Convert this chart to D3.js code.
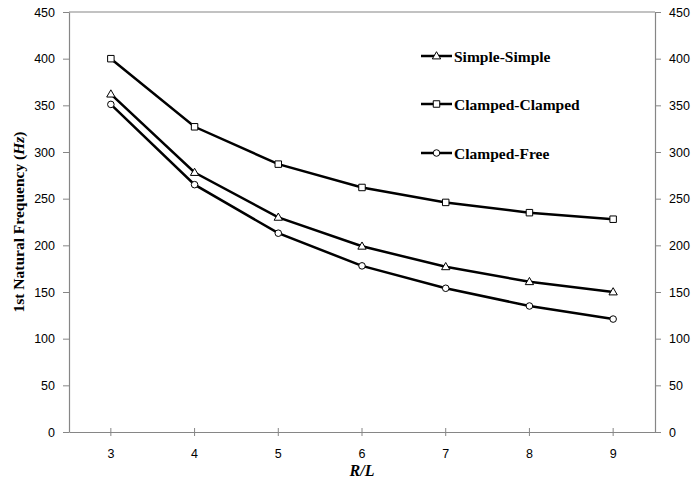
<!DOCTYPE html>
<html>
<head>
<meta charset="utf-8">
<script src="https://cdn.jsdelivr.net/npm/d3@7"></script>
<style>
  body { margin: 0; background: #fff; }
  svg { display: block; }
</style>
</head>
<body>
<div id="chart"></div>
<script>
// chart values
const ratios = [3, 4, 5, 6, 7, 8, 9];
const simpleSimple = [362, 278, 230, 199, 177, 161, 150];
const clampedClamped = [400, 327, 287, 262, 246, 235, 228];
const clampedFree = [351, 265, 213, 178, 154, 135, 121];
const yTicks = [0, 50, 100, 150, 200, 250, 300, 350, 400, 450];
const seriesNames = ['Simple-Simple', 'Clamped-Clamped', 'Clamped-Free'];

const width = 698, height = 484;
const plotLeft = 69, plotRight = 655, plotTop = 12, plotBottom = 432;
const axisColor = '#868686';
const tickFont = '"Liberation Sans", Arial, sans-serif';
const titleFont = '"Liberation Serif", "Times New Roman", serif';

const svg = d3.select('#chart').append('svg')
    .attr('width', width).attr('height', height);

const x = d3.scaleBand().domain(ratios).range([plotLeft, plotRight]);
const y = d3.scaleLinear().domain([0, 450]).range([plotBottom, plotTop]);
const cx = d => x(d) + x.bandwidth() / 2;

// top border of the plot box
svg.append('line').attr('x1', plotLeft).attr('x2', plotRight)
    .attr('y1', plotTop).attr('y2', plotTop)
    .attr('stroke', axisColor).attr('stroke-width', 1.2);

// left and right value axes
const yLeft = svg.append('g').attr('transform', `translate(${plotLeft},0)`)
    .call(d3.axisLeft(y).tickValues(yTicks).tickSize(6).tickPadding(8).tickSizeOuter(0));
const yRight = svg.append('g').attr('transform', `translate(${plotRight},0)`)
    .call(d3.axisRight(y).tickValues(yTicks).tickSize(6).tickPadding(8).tickSizeOuter(0));
[yLeft, yRight].forEach(g => {
    g.select('.domain').attr('stroke', axisColor).attr('stroke-width', 1.2);
    g.selectAll('.tick line').attr('stroke', axisColor);
    g.selectAll('.tick text').attr('fill', '#000').style('font', `12.5px ${tickFont}`);
});

// bottom axis with crossing ticks
const xAxis = svg.append('g').attr('transform', `translate(0,${plotBottom})`)
    .call(d3.axisBottom(x).tickSize(4).tickPadding(13).tickSizeOuter(0));
xAxis.select('.domain').attr('stroke', axisColor).attr('stroke-width', 1.2);
xAxis.selectAll('.tick line').attr('stroke', axisColor).attr('y1', -4);
xAxis.selectAll('.tick text').attr('fill', '#000').style('font', `12.5px ${tickFont}`);

// axis titles
svg.append('text')
    .attr('transform', `translate(24,${(plotTop + plotBottom) / 2}) rotate(-90)`)
    .attr('text-anchor', 'middle')
    .style('font', `bold 15.5px ${titleFont}`)
    .call(t => {
        t.append('tspan').text('1st Natural Frequency (');
        t.append('tspan').attr('font-style', 'italic').text('Hz');
        t.append('tspan').text(')');
    });
svg.append('text')
    .attr('x', (plotLeft + plotRight) / 2).attr('y', 476)
    .attr('text-anchor', 'middle')
    .style('font', `italic bold 16px ${titleFont}`)
    .text('R/L');

// marker drawing
const symbols = [d3.symbolTriangle, d3.symbolSquare, d3.symbolCircle];
const symbolSizes = [30, 42, 34];
function drawMarker(g, i, px, py) {
    g.append('path')
        .attr('d', d3.symbol().type(symbols[i]).size(symbolSizes[i])())
        .attr('transform', `translate(${px},${py + (i === 0 ? 0.5 : 0)})`)
        .attr('fill', '#fff').attr('stroke', '#000').attr('stroke-width', 1);
}

const line = d3.line().x(d => cx(d[0])).y(d => y(d[1]));
const allSeries = [simpleSimple, clampedClamped, clampedFree];

allSeries.forEach((vals, i) => {
    const pts = ratios.map((r, k) => [r, vals[k]]);
    svg.append('path').datum(pts)
        .attr('d', line).attr('fill', 'none')
        .attr('stroke', '#000').attr('stroke-width', 2.5);
    const g = svg.append('g');
    pts.forEach(p => drawMarker(g, i, cx(p[0]), y(p[1])));
});

// legend
const legendY = [56, 104, 153];
seriesNames.forEach((name, i) => {
    const g = svg.append('g');
    g.append('line').attr('x1', 421).attr('x2', 452)
        .attr('y1', legendY[i]).attr('y2', legendY[i])
        .attr('stroke', '#000').attr('stroke-width', 2.5);
    drawMarker(g, i, 436.5, legendY[i]);
    g.append('text').attr('x', 454).attr('y', legendY[i] + 5.5)
        .style('font', `bold 15.5px ${titleFont}`)
        .text(name);
});
</script>
</body>
</html>
